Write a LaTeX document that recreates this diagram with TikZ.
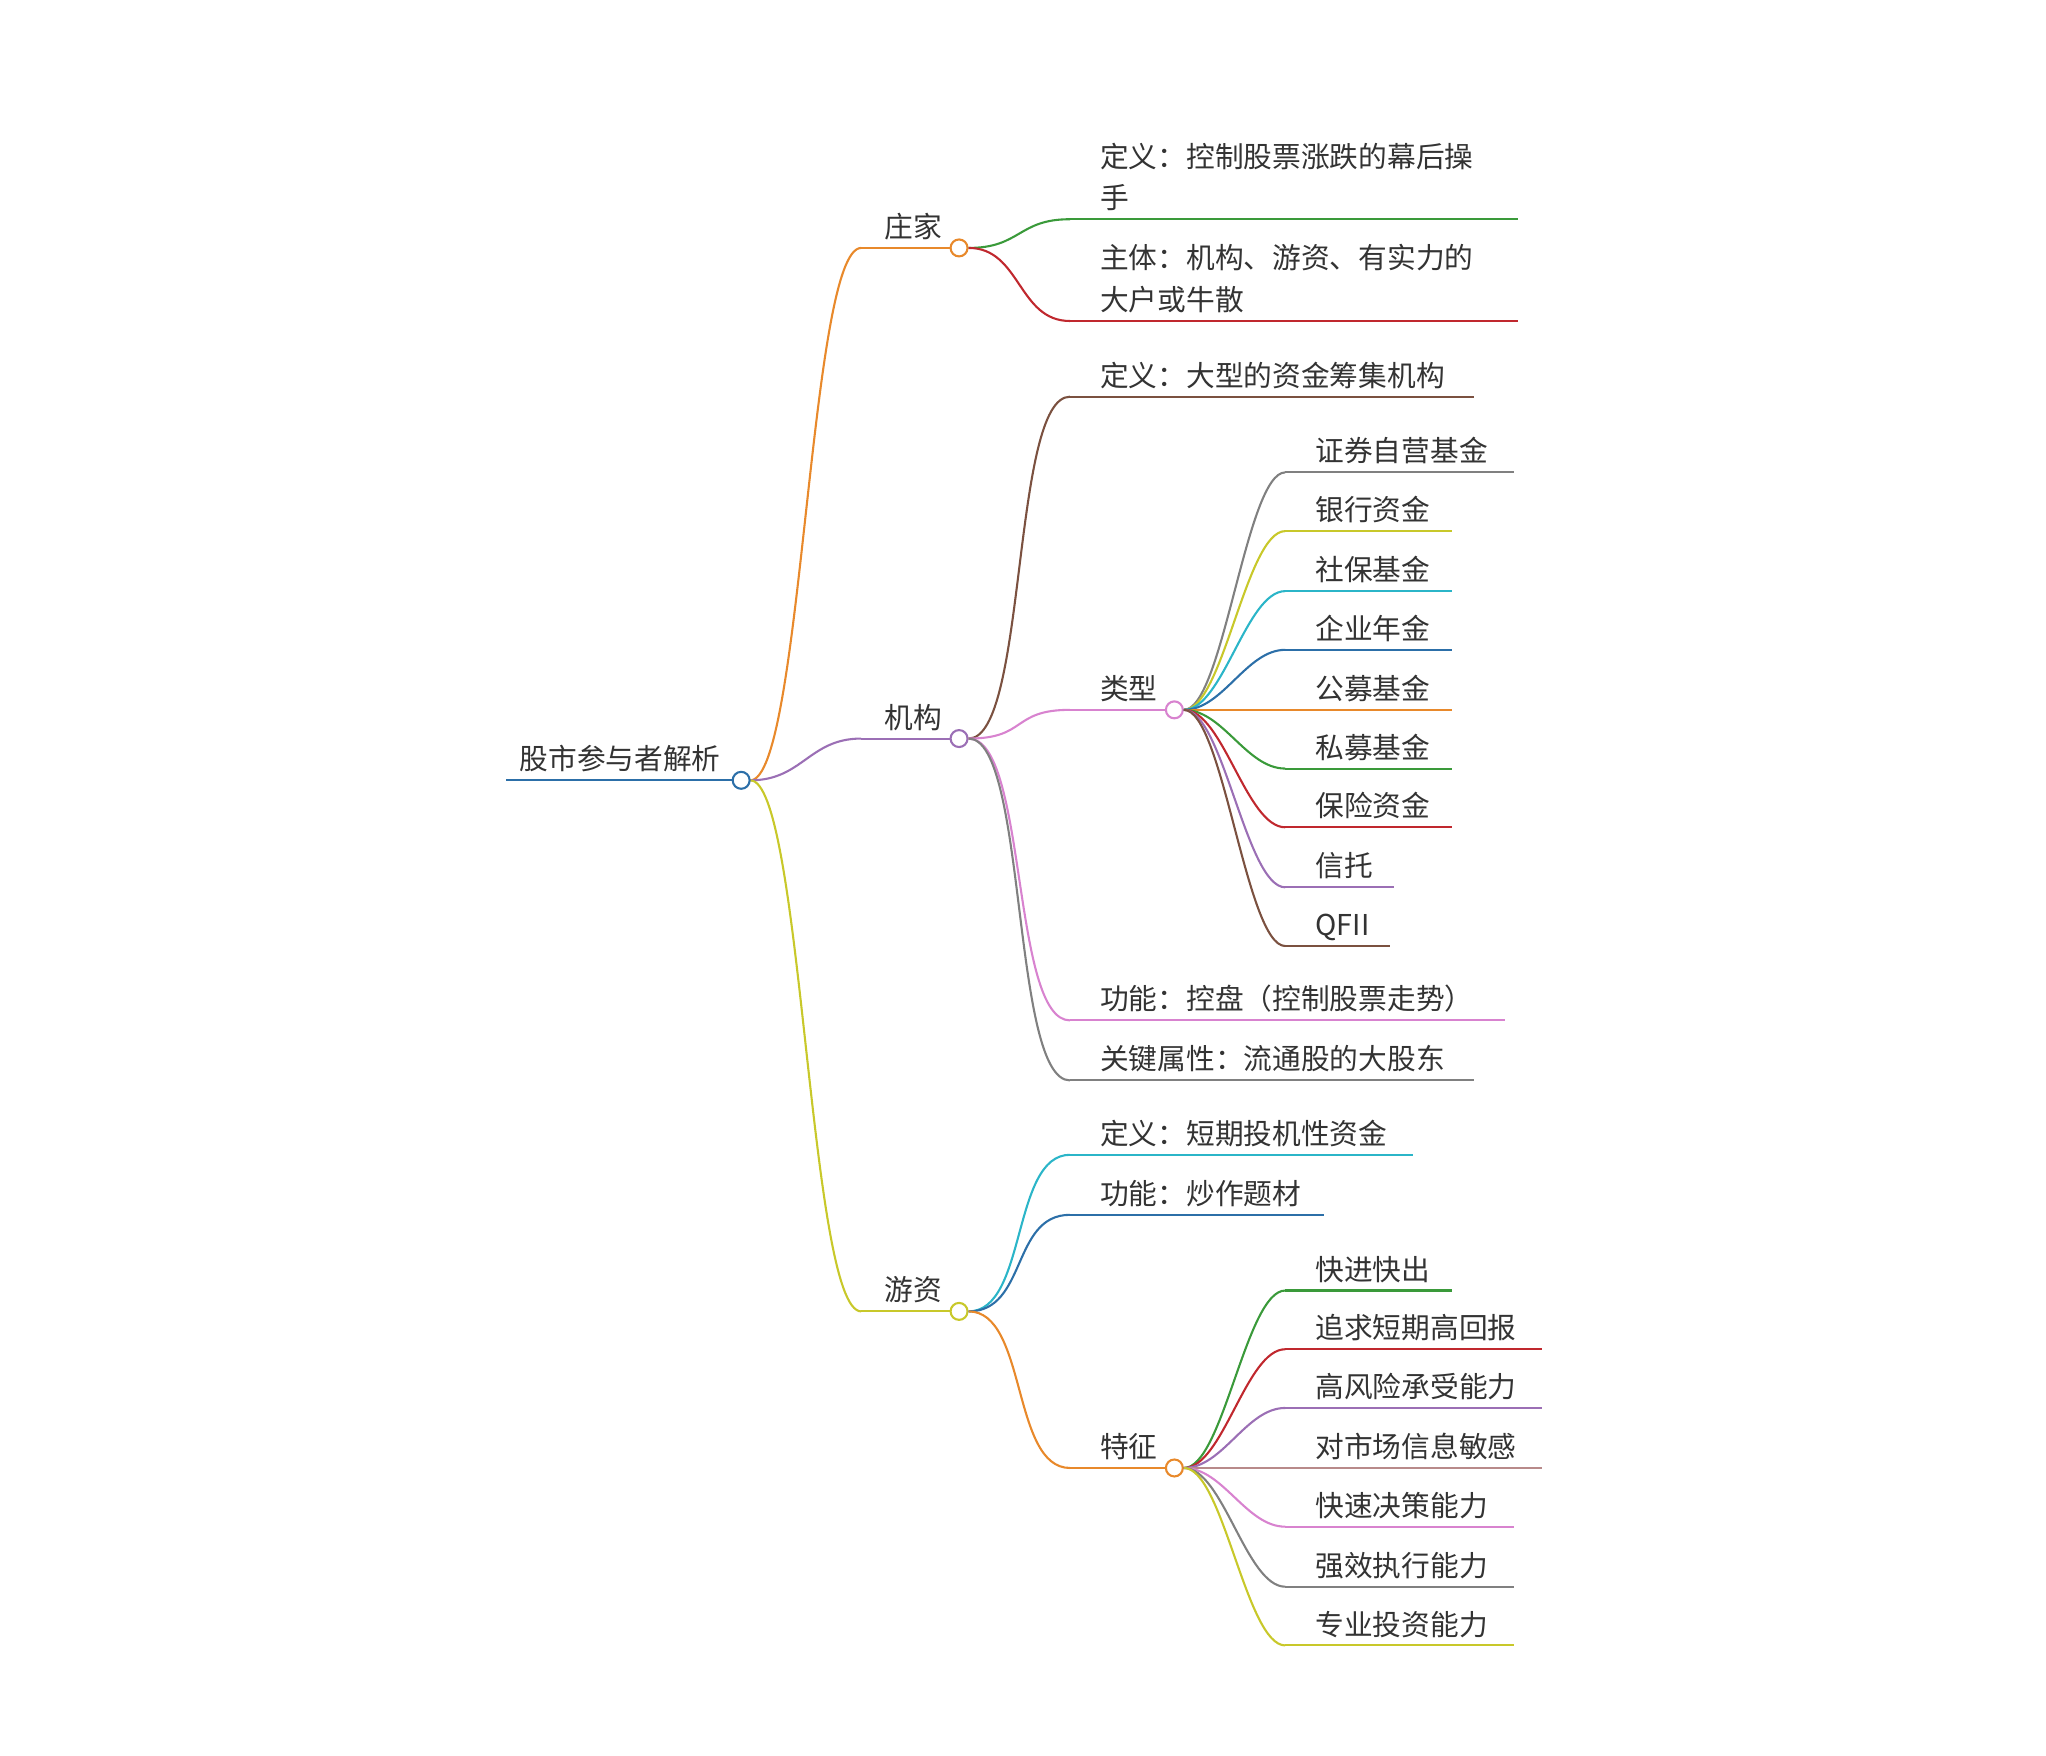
\documentclass[tikz,border=0pt]{standalone}
\usepackage{fontspec}
\setmainfont{Noto Sans CJK SC}
\begin{document}
\begin{tikzpicture}[x=1pt,y=-1pt,
  lbl/.style={anchor=base west,inner sep=0pt,font=\fontsize{22}{32}\selectfont,text=black!80},
  ln/.style={line width=1.6pt},
  dot/.style={circle,draw,line width=1.6pt,fill=white,minimum size=13pt,inner sep=0pt}]
\useasboundingbox (0,0) rectangle (1568,1345);
\definecolor{cOr}{HTML}{E8892B}\definecolor{cPu}{HTML}{9B6FB5}\definecolor{cOl}{HTML}{C8C82A}
\definecolor{cBl}{HTML}{2C6FA8}\definecolor{cGr}{HTML}{3A9A3A}\definecolor{cRe}{HTML}{C0282E}
\definecolor{cBr}{HTML}{7B5140}\definecolor{cPk}{HTML}{D883CF}\definecolor{cGy}{HTML}{808080}
\definecolor{cCy}{HTML}{2BB5C8}\definecolor{cRo}{HTML}{B88A8A}
\newcommand{\br}[4]{\draw[ln,#1] (#2) .. controls +(#4,0) and +(-#4,0) .. (#3);}
% root
\draw[ln,cBl] (388,598) -- (562,598);
\node[lbl] (roott) at (398,590) {股市参与者解析};
% level 1
\foreach \nm/\y/\c/\t in {zj/190/cOr/庄家, jg/566/cPu/机构, yz/1005/cOl/游资}{
  \coordinate (\nm s) at (660,\y);
  \draw[ln,\c] (\nm s) -- (728,\y);
  \br{\c}{575,598}{\nm s}{40}
  \node[lbl] (\nm t) at (678,\y-8) {\t};
  \node[dot,draw=\c] (\nm) at (735,\y) {};
}
\node[dot,draw=cBl] (root) at (568,598) {};
% 庄家 children
\coordinate (zja) at (820,168); \draw[ln,cGr] (zja) -- (1163,168); \br{cGr}{zj.east}{zja}{40}
\node[lbl] (zja1) at (843,128) {定义：控制股票涨跌的幕后操};
\node[lbl] (zja2) at (843,160) {手};
\coordinate (zjb) at (820,246); \draw[ln,cRe] (zjb) -- (1163,246); \br{cRe}{zj.east}{zjb}{40}
\node[lbl] (zjb1) at (843,206) {主体：机构、游资、有实力的};
\node[lbl] (zjb2) at (843,238) {大户或牛散};
% 机构 children
\foreach \nm/\y/\x/\c/\t in {ja/304/1130/cBr/定义：大型的资金筹集机构, jb/544/893/cPk/类型, jc/782/1153/cPk/功能：控盘（控制股票走势）, jd/828/1130/cGy/关键属性：流通股的大股东}{
  \coordinate (\nm) at (820,\y); \draw[ln,\c] (\nm) -- (\x,\y); \br{\c}{jg.east}{\nm}{45}
  \node[lbl] (\nm t) at (843,\y-8) {\t};
}
\node[dot,draw=cPk] (lx) at (900,544) {};
\foreach \nm/\y/\x/\c/\t in {l1/362/1160/cGy/证券自营基金, l2/407/1113/cOl/银行资金, l3/453/1113/cCy/社保基金, l4/498/1113/cBl/企业年金, l5/544/1113/cOr/公募基金, l6/589/1113/cGr/私募基金, l7/634/1113/cRe/保险资金, l8/680/1068/cPu/信托, l9/725/1065/cBr/QFII}{
  \coordinate (\nm) at (985,\y); \draw[ln,\c] (\nm) -- (\x,\y); \br{\c}{lx.east}{\nm}{30}
  \node[lbl] (\nm t) at (1008,\y-8) {\t};
}
% 游资 children
\foreach \nm/\y/\x/\c/\t in {ya/885/1083/cCy/定义：短期投机性资金, yb/931/1015/cBl/功能：炒作题材, yc/1125/893/cOr/特征}{
  \coordinate (\nm) at (820,\y); \draw[ln,\c] (\nm) -- (\x,\y); \br{\c}{yz.east}{\nm}{45}
  \node[lbl] (\nm t) at (843,\y-8) {\t};
}
\node[dot,draw=cOr] (tz) at (900,1125) {};
\foreach \nm/\y/\x/\c/\t in {t1/989/1113/cGr/快进快出, t2/1034/1182/cRe/追求短期高回报, t3/1079/1182/cPu/高风险承受能力, t4/1125/1182/cRo/对市场信息敏感, t5/1170/1160/cPk/快速决策能力, t6/1216/1160/cGy/强效执行能力, t7/1261/1160/cOl/专业投资能力}{
  \coordinate (\nm) at (985,\y); \draw[ln,\c] (\nm) -- (\x,\y); \br{\c}{tz.east}{\nm}{30}
  \node[lbl] (\nm t) at (1008,\y-8) {\t};
}
\end{tikzpicture}
\end{document}
